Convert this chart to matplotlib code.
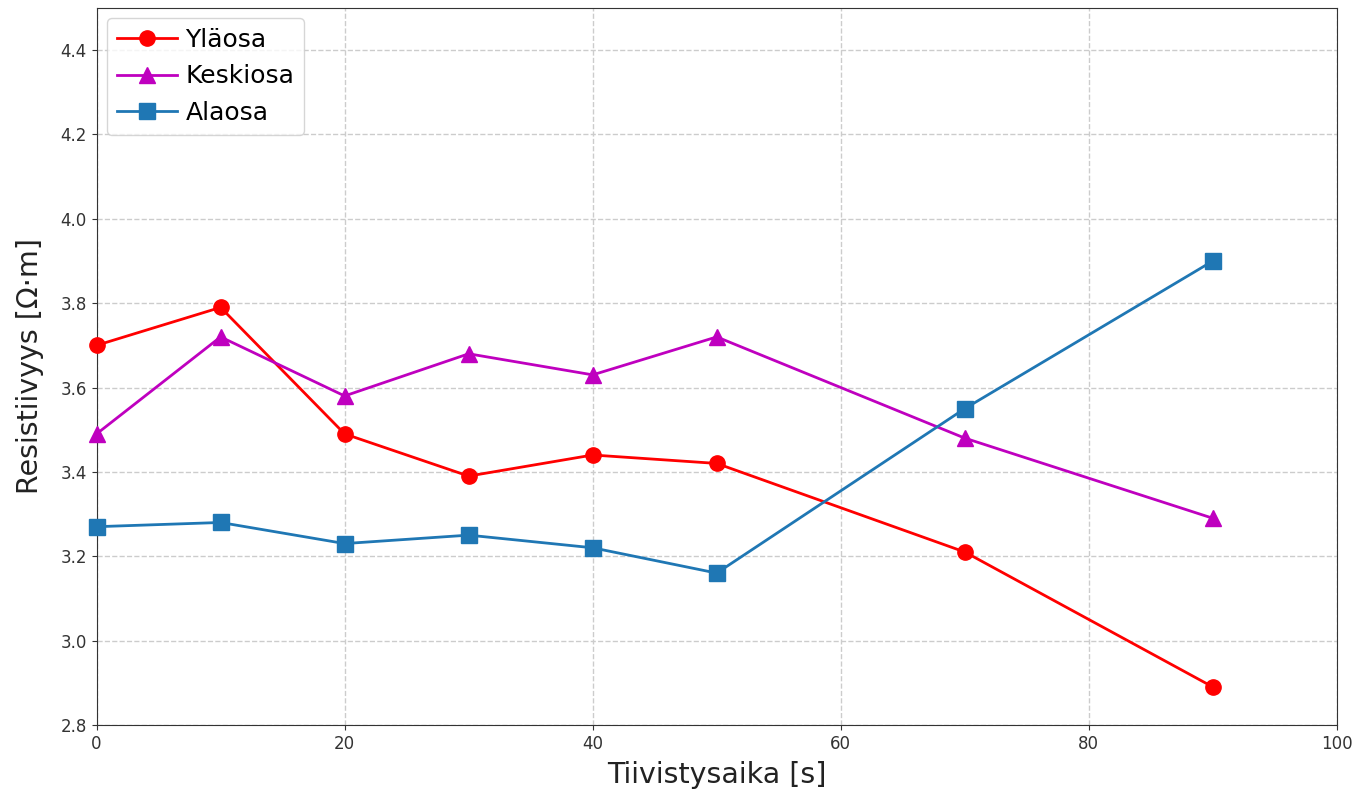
import matplotlib
matplotlib.use("Agg")
import matplotlib.pyplot as plt

# Tiivistysaika [s]
aika = [0, 10, 20, 30, 40, 50, 70, 90]

# Resistiivyys [Ω·m]
ylaosa = [3.70, 3.79, 3.49, 3.39, 3.44, 3.42, 3.21, 2.89]
keskiosa = [3.49, 3.72, 3.58, 3.68, 3.63, 3.72, 3.48, 3.29]
alaosa = [3.27, 3.28, 3.23, 3.25, 3.22, 3.16, 3.55, 3.90]

fig, ax = plt.subplots(figsize=(13.6, 7.94), dpi=100)

ax.plot(aika, ylaosa, 'r-o', linewidth=2, markersize=11, label='Yläosa', clip_on=False, zorder=3)
ax.plot(aika, keskiosa, 'm-^', linewidth=2, markersize=11, label='Keskiosa', clip_on=False, zorder=3)
ax.plot(aika, alaosa, '-s', color='#1f77b4', linewidth=2, markersize=11, label='Alaosa', clip_on=False, zorder=3)

ax.set_xlim(0, 100)
ax.set_ylim(2.8, 4.5)
ax.set_yticks([2.8, 3.0, 3.2, 3.4, 3.6, 3.8, 4.0, 4.2, 4.4])
ax.set_xticks([0, 20, 40, 60, 80, 100])

ax.set_xlabel('Tiivistysaika [s]', fontsize=20.5, color='#222222', labelpad=6)
ax.set_ylabel('Resistiivyys [Ω·m]', fontsize=20.5, color='#222222', labelpad=12)
ax.tick_params(labelsize=12, colors='#333333')
for s in ax.spines.values():
    s.set_color('#333333')

ax.grid(True, linestyle='--', color='#cccccc', linewidth=1)
ax.legend(loc='upper left', fontsize=18, handlelength=2.4, handletextpad=0.35,
          borderaxespad=0.4)

fig.subplots_adjust(left=0.071, right=0.983, top=0.99, bottom=0.087)
fig.savefig('out.png')
